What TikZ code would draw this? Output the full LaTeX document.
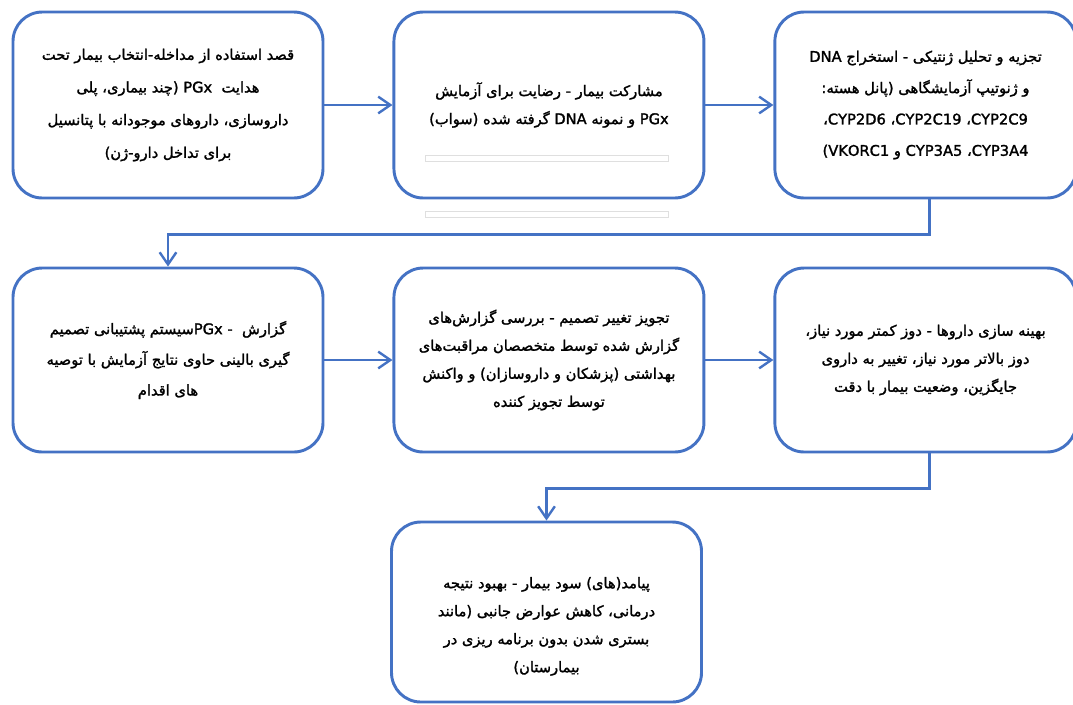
\documentclass[tikz,border=0pt]{standalone}
\usepackage{fontspec}
\usepackage{tikz}
\usetikzlibrary{positioning, arrows.meta}
\TeXXeTstate=1
\newfontfamily\farsifont[Script=Arabic, FakeBold=1.6]{DejaVu Sans}
\definecolor{flowblue}{RGB}{68,114,196}
\newcommand{\rl}[1]{\beginR #1\endR}

\begin{document}
\begin{tikzpicture}[
    x=0.75pt, y=-0.75pt,
    node distance=51pt,
    every node/.style={align=center},
    stage/.style={draw=flowblue, line width=2.2pt, rounded corners=22pt, fill=white,
        minimum width=232.5pt, minimum height=139.5pt,
        font={\farsifont\fontsize{11}{21}\selectfont}},
    flow/.style={-{Straight Barb[length=3.2mm, width=4.4mm]}, line width=1.8pt, draw=flowblue},
]
\useasboundingbox (0,0) rectangle (1073,704);
% Top row
\node[stage, font={\farsifont\fontsize{11}{24.5}\selectfont}] (select) at (168,105) {\rl{قصد استفاده از مداخله-انتخاب بیمار تحت}\\
    \rl{هدایت\ \ PGx (چند بیماری، پلی}\\
    \rl{داروسازی، داروهای موجودانه با پتانسیل}\\
    \rl{برای تداخل دارو-ژن)}};
\node[stage, right=of select] (consent) {\rl{مشارکت بیمار - رضایت برای آزمایش}\\
    \rl{PGx و نمونه DNA گرفته شده (سواب)}};
\node[stage, right=of consent, minimum width=226pt, font={\farsifont\fontsize{11}{23.5}\selectfont}] (genotype) {\rl{تجزیه و تحلیل ژنتیکی - استخراج DNA}\\
    \rl{و ژنوتیپ آزمایشگاهی (پانل هسته:}\\
    \rl{CYP2C9\kern0pt، CYP2C19\kern0pt، CYP2D6\kern0pt،}\\
    \rl{CYP3A4\kern0pt، CYP3A5 و (VKORC1}};
% faint lines left in the middle box
\draw[gray!25, line width=0.5pt] (425,155) rectangle (668,161);
\draw[gray!25, line width=0.5pt] (425,211) rectangle (668,217);
% Middle row
\node[stage, minimum height=138pt, font={\farsifont\fontsize{11}{23}\selectfont}] (report) at (168,360) {\rl{گزارش\ \ - PGx\kern0ptسیستم پشتیبانی تصمیم}\\
    \rl{گیری بالینی حاوی نتایج آزمایش با توصیه}\\
    \rl{های اقدام}};
\node[stage, minimum height=138pt, right=of report] (prescribe) {\rl{تجویز تغییر تصمیم - بررسی گزارش‌های}\\
    \rl{گزارش شده توسط متخصصان مراقبت‌های}\\
    \rl{بهداشتی (پزشکان و داروسازان) و واکنش}\\
    \rl{توسط تجویز کننده}};
\node[stage, minimum height=138pt, minimum width=226pt, right=of prescribe] (optimize) {\rl{بهینه سازی داروها - دوز کمتر مورد نیاز،}\\
    \rl{دوز بالاتر مورد نیاز، تغییر به داروی}\\
    \rl{جایگزین، وضعیت بیمار با دقت}};
% Bottom
\node[stage, minimum height=135pt] (outcome) at (546.5,612) {\rl{\rule{0pt}{30pt}پیامد(های) سود بیمار - بهبود نتیجه}\\
    \rl{درمانی، کاهش عوارض جانبی (مانند}\\
    \rl{بستری شدن بدون برنامه ریزی در}\\
    \rl{بیمارستان)}};
% Arrows
\draw[flow] (select) -- (consent);
\draw[flow] (consent) -- (genotype);
\draw[flow] ([xshift=3pt]genotype.south) -- ++(0,35) -| (report.north);
\draw[flow] (report) -- (prescribe);
\draw[flow] (prescribe) -- (optimize);
\draw[flow] ([xshift=3pt]optimize.south) -- ++(0,35) -| (outcome.north);
\end{tikzpicture}
\end{document}
